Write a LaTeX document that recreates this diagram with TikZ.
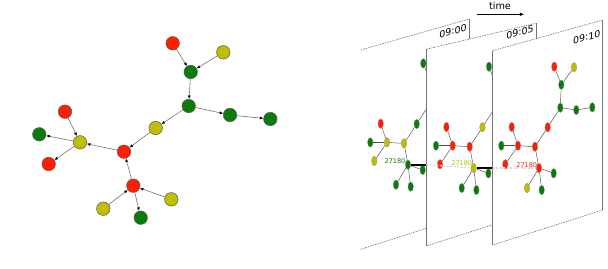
\documentclass[tikz,border=0pt]{standalone}
\usepackage{fontspec}
\setsansfont{DejaVu Sans}
\usepackage{xcolor}
\definecolor{nodered}{HTML}{FF1F00}
\definecolor{nodeyellow}{HTML}{BFBF00}
\definecolor{nodegreen}{HTML}{0B7C0B}
\usetikzlibrary{arrows.meta,shapes.geometric}
\tikzset{
  gnode/.style={circle, draw=black!65, line width=0.5pt, minimum size=13.5pt, inner sep=0pt},
  gr/.style={gnode, fill=nodered},
  gy/.style={gnode, fill=nodeyellow},
  gg/.style={gnode, fill=nodegreen},
  snode/.style={ellipse, draw=black!45, line width=0.3pt, minimum width=5.5pt,
                minimum height=9.5pt, inner sep=0pt},
  ar/.style={-{Latex[length=3.5pt,width=3pt,color=black]}, draw=black!55, line width=0.6pt},
  se/.style={draw=black!70, line width=0.45pt},
  plane/.style={draw=black!55, line width=0.6pt},
  pdash/.style={plane, dash pattern=on 1.5pt off 1pt},
  link/.style={draw=black, line width=1.8pt},
  ghost/.style={draw=black!15, line width=1.3pt, dash pattern=on 2pt off 1.5pt},
  stamp/.style={font=\sffamily\fontsize{9.5}{10}\selectfont, yslant=0.28},
  idtag/.style={font=\sffamily\fontsize{6.5}{7}\selectfont},
}

% one snapshot of the graph: prefix, shift, colours of nodes a..p
\newcommand{\snapgraph}[3]{%
  \begin{scope}[shift={#2}]
    \foreach \n/\x/\y [count=\i from 0] in {a/554.3/66.7, b/574/67.3, c/561.3/84.7,
        d/560.3/107.7, e/576.3/110, f/592.3/107.3, g/547.7/127.3, h/535/146.7,
        i/518/145.7, j/511.7/127, k/501.3/145.7, l/505.3/164.3, m/539/168,
        n/527/188, o/541.7/190, p/553.7/173.3}{
      \pgfmathsetmacro\col{{#3}[\i]}
      \node[snode, fill=\col] (#1\n) at (\x,\y) {};
    }
    \foreach \sa/\sb in {a/c, b/c, c/d, d/e, e/f, d/g, g/h, h/i, j/i, i/k, i/l,
        m/h, n/m, p/m, m/o}
      \draw[se] (#1\sa) -- (#1\sb);
  \end{scope}}

\begin{document}
\begin{tikzpicture}[x=1pt, y=-1pt]
  \useasboundingbox (0,0) rectangle (608,268);

  % left: the graph
  \node[gr] (R1) at (172.7,43.3) {};
  \node[gy] (Y1) at (223.3,52.3) {};
  \node[gg] (G1) at (190.7,72) {};
  \node[gg] (G2) at (188.7,106) {};
  \node[gg] (G3) at (230,115) {};
  \node[gg] (G4) at (270.3,119) {};
  \node[gy] (Y2) at (155.7,128) {};
  \node[gr] (R2) at (124,151.7) {};
  \node[gy] (Y3) at (80,142.3) {};
  \node[gr] (R3) at (65,111.7) {};
  \node[gg] (G5) at (39.3,134.3) {};
  \node[gr] (R4) at (48.7,164) {};
  \node[gr] (R5) at (133.3,185.7) {};
  \node[gy] (Y4) at (103.3,208.7) {};
  \node[gg] (G6) at (140.7,217.7) {};
  \node[gy] (Y5) at (171.3,199.3) {};
  \draw[ar] (R1) -- (G1);
  \draw[ar] (Y1) -- (G1);
  \draw[ar] (G1) -- (G2);
  \draw[ar] (G2) -- (G3);
  \draw[ar] (G3) -- (G4);
  \draw[ar] (G2) -- (Y2);
  \draw[ar] (Y2) -- (R2);
  \draw[ar] (R2) -- (Y3);
  \draw[ar] (R3) -- (Y3);
  \draw[ar] (Y3) -- (G5);
  \draw[ar] (Y3) -- (R4);
  \draw[ar] (R5) -- (R2);
  \draw[ar] (Y4) -- (R5);
  \draw[ar] (Y5) -- (R5);
  \draw[ar] (R5) -- (G6);

  % right: snapshots over time
  \coordinate (P1tl) at (360.7,50);  \coordinate (P1tr) at (469.3,19);
  \coordinate (P1br) at (469.3,214.5); \coordinate (P1bl) at (360.7,249.3);
  \coordinate (P2tl) at (426,49.3);  \coordinate (P2tr) at (536,23.3);
  \coordinate (P2br) at (536,211);   \coordinate (P2bl) at (426,246);
  \coordinate (P3tl) at (492.7,50.7); \coordinate (P3tr) at (602.7,20);
  \coordinate (P3br) at (602.7,210); \coordinate (P3bl) at (492.7,245);

  \draw[pdash] (P1tl) -- (P1tr);
  \draw[plane] (P1tr) -- (P1br);
  \draw[pdash] (P1br) -- (P1bl);
  \node[stamp] (s1) at (453,31) {09:00};
  \snapgraph{p1}{(-131,-3.3)}{"nodegreen","nodegreen","nodegreen","nodegreen",
    "nodegreen","nodegreen","nodegreen","nodeyellow","nodeyellow","nodered",
    "nodegreen","nodeyellow","nodegreen","nodegreen","nodegreen","nodegreen"}
  \node[idtag, text=nodegreen] (id1) at (395,160.7) {27180};
  \draw[link] (p1m) -- (p1m -| P2tl);

  \fill[white] (P2tl) -- (P2tr) -- (P2br) -- (P2bl) -- cycle;
  \draw[plane] (P2bl) -- (P2tl);
  \draw[pdash] (P2tl) -- (P2tr);
  \draw[plane] (P2tr) -- (P2br);
  \draw[pdash] (P2br) -- (P2bl);
  \node[stamp] (s2) at (520,32) {09:05};
  \snapgraph{p2}{(-65.3,0)}{"nodegreen","nodegreen","nodegreen","nodegreen",
    "nodegreen","nodegreen","nodeyellow","nodered","nodered","nodered",
    "nodegreen","nodered","nodeyellow","nodegreen","nodegreen","nodegreen"}
  \draw[ghost] (p1m -| P2tl) -- (p2m);
  \node[idtag, text=nodeyellow] (id2) at (461.7,163.3) {27180};
  \draw[link] (p2m) -- (p2m -| P3tl);

  \fill[white] (P3tl) -- (P3tr) -- (P3br) -- (P3bl) -- cycle;
  \draw[plane] (P3bl) -- (P3tl);
  \draw[pdash] (P3tl) -- (P3tr);
  \draw[plane] (P3tr) -- (P3br);
  \draw[pdash] (P3br) -- (P3bl);
  \node[stamp] (s3) at (586.7,37) {09:10};
  \snapgraph{p3}{(0,0)}{"nodered","nodeyellow","nodegreen","nodegreen",
    "nodegreen","nodegreen","nodered","nodered","nodered","nodered",
    "nodegreen","nodered","nodered","nodeyellow","nodegreen","nodegreen"}
  \draw[ghost] (p2m -| P3tl) -- (p3m);
  \node[idtag, text=nodered] (id3) at (526.7,165) {27180};

  % time axis
  \coordinate (t0) at (476.7,14.3);
  \coordinate (t1) at (524.3,14.3);
  \draw[-{Latex[length=4.5pt,width=3.5pt]}, line width=0.7pt] (t0) -- (t1);
  \node[font=\sffamily\fontsize{9.7}{10}\selectfont] (tl) at (500,5.5) {time};
\end{tikzpicture}
\end{document}
